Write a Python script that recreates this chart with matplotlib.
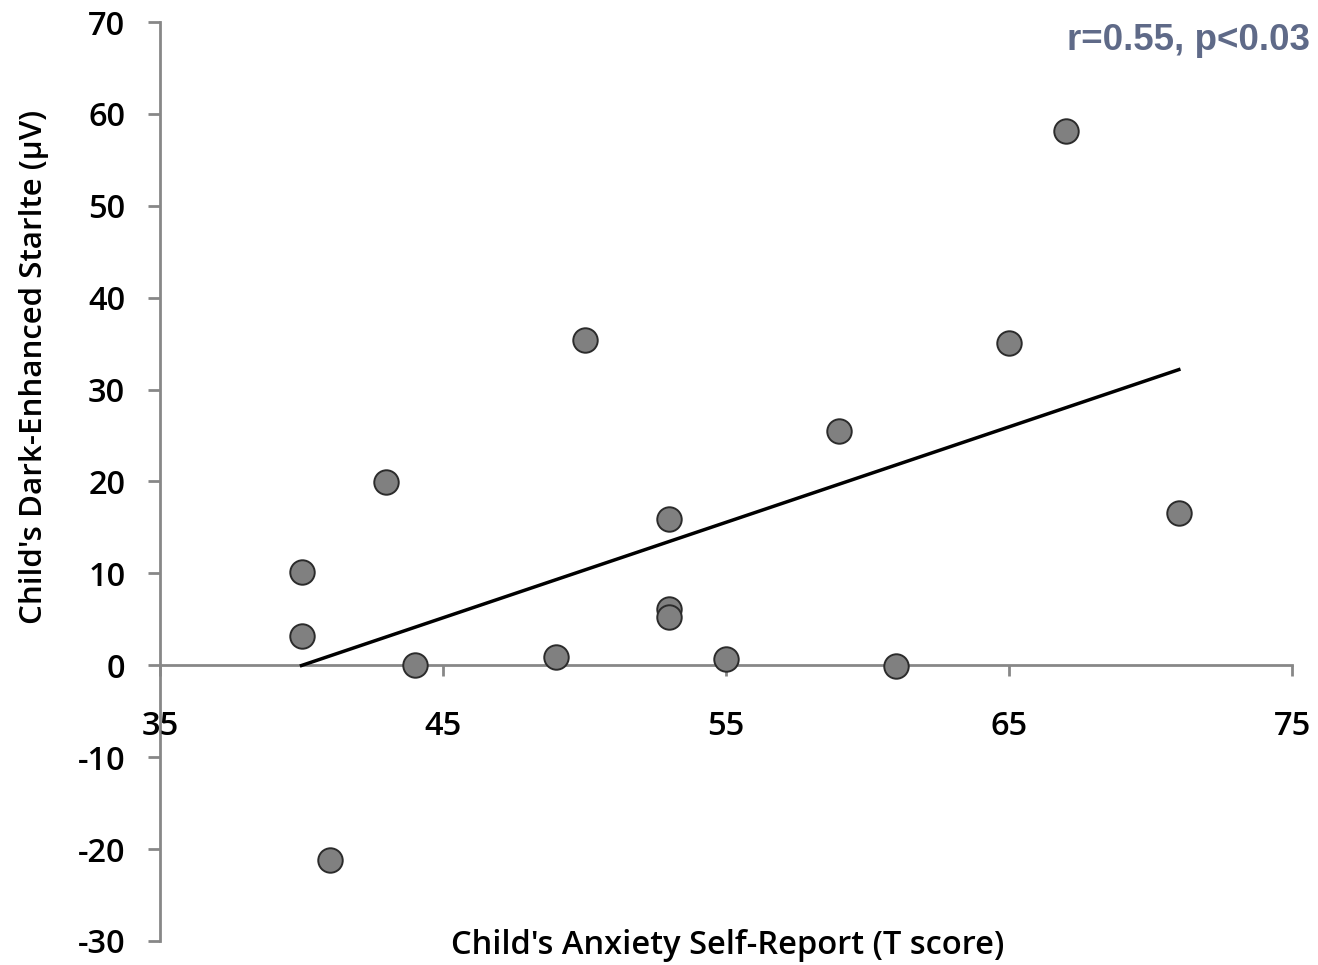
import numpy as np
import matplotlib.pyplot as plt

# anxiety T score vs dark-enhanced startle
t_score = [40, 40, 43, 44, 41, 49, 50, 53, 53, 53, 55, 59, 61, 65, 67, 71]
startle = [3.2, 10.2, 19.9, 0.0, -21.2, 0.9, 35.4, 15.9, 6.1, 5.2, 0.7, 25.5, -0.1, 35.1, 58.1, 16.6]
x_ticks = [35, 45, 55, 65, 75]
y_ticks = [-30, -20, -10, 0, 10, 20, 30, 40, 50, 60, 70]
stat_text = "r=0.55, p<0.03"

plt.rcParams['font.family'] = ['Open Sans', 'DejaVu Sans']
plt.rcParams['axes.unicode_minus'] = False

fig = plt.figure(figsize=(13.18, 9.65), dpi=100)
ax = fig.add_axes([0.1214, 0.0249, 0.8589, 0.9523])

x = np.array(t_score)
y = np.array(startle)
coefs = np.polyfit(x, y, 1)
xs = np.array([x.min(), x.max()])
ax.plot(xs, np.polyval(coefs, xs), color='black', lw=2.5, zorder=2)

ax.scatter(x, y, s=310, facecolor='#808080', edgecolor='#2b2b2b', linewidth=1.4, zorder=3)

ax.set_xlim(35, 75)
ax.set_ylim(-30, 70)
ax.set_xticks(x_ticks)
ax.set_yticks(y_ticks)

axis_grey = '#878787'
for side in ('top', 'right'):
    ax.spines[side].set_visible(False)
ax.spines['bottom'].set_position(('data', 0))
for side in ('left', 'bottom'):
    ax.spines[side].set_color(axis_grey)
    ax.spines[side].set_linewidth(2.0)
    ax.spines[side].set_zorder(1)

ax.tick_params(axis='y', direction='out', length=9, width=2.0, color=axis_grey,
               labelsize=23.5, pad=16)
ax.tick_params(axis='x', direction='out', length=8, width=2.0, color=axis_grey,
               labelsize=23.5, pad=24)
for lab in ax.get_xticklabels() + ax.get_yticklabels():
    lab.set_fontweight('semibold')

fig.text(0.026, 0.62, "Child's Dark-Enhanced Starlte (\u00b5V)", rotation=90,
         ha='center', va='center', fontsize=22.5, fontweight='semibold')
fig.text(0.552, 0.020, "Child's Anxiety Self-Report (T score)",
         ha='center', va='center', fontsize=23.5, fontweight='semibold')
fig.text(0.994, 0.958, stat_text, ha='right', va='center', fontsize=26.5,
         fontweight='bold', color='#5f6a88', family=['Liberation Sans', 'DejaVu Sans'])

fig.savefig('out.png', dpi=100)
